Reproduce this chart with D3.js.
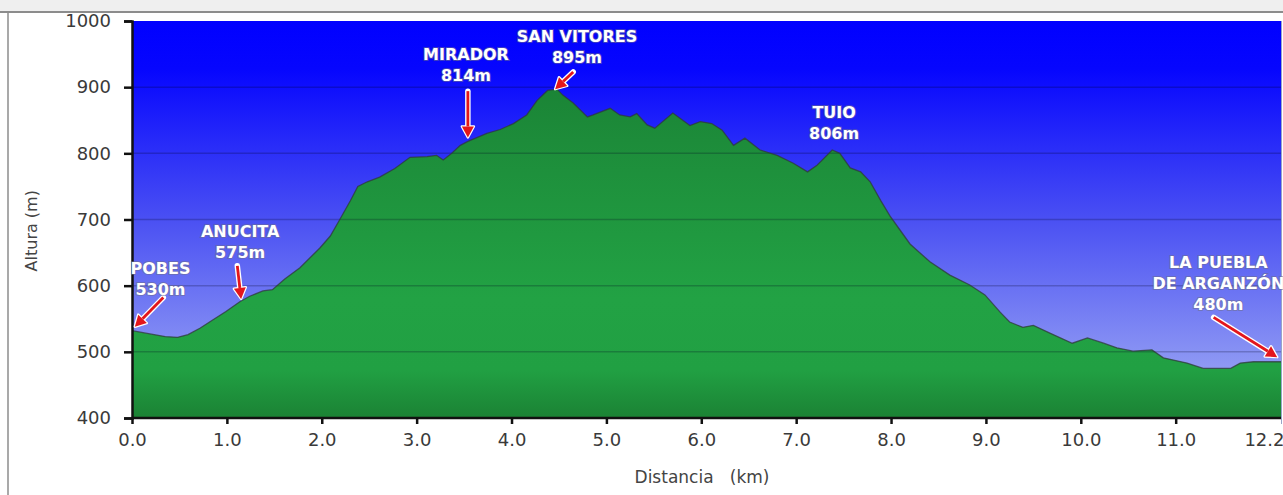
<!DOCTYPE html>
<html>
<head>
<meta charset="utf-8">
<script src="https://cdn.jsdelivr.net/npm/d3@7"></script>
<style>
  html, body { margin: 0; padding: 0; background: #ffffff; overflow: hidden; }
  svg { display: block; }
</style>
</head>
<body>
<svg id="chart" width="1283" height="495"></svg>
<script>
// ---------- data ----------
const distanceKm = [
  0.00, 0.19, 0.35, 0.48, 0.59, 0.72, 0.85, 0.99, 1.14, 1.24, 1.38, 1.48, 1.61, 1.77, 1.98,
  2.09, 2.19, 2.30, 2.38, 2.48, 2.61, 2.77, 2.93, 3.11, 3.21, 3.28, 3.37, 3.46, 3.54, 3.74,
  3.88, 4.02, 4.16, 4.27, 4.38, 4.48, 4.54, 4.65, 4.80, 4.86, 5.04, 5.14, 5.25, 5.32, 5.43,
  5.51, 5.70, 5.88, 5.99, 6.11, 6.22, 6.34, 6.46, 6.62, 6.80, 6.97, 7.12, 7.22, 7.38, 7.46,
  7.57, 7.68, 7.78, 7.89, 7.99, 8.10, 8.20, 8.41, 8.62, 8.83, 8.99, 9.15, 9.25, 9.39, 9.50,
  9.68, 9.91, 10.07, 10.24, 10.38, 10.55, 10.75, 10.87, 11.12, 11.29, 11.58, 11.68, 11.82, 12.11
];
const elevationM = [
  532, 527, 523, 522, 526, 536, 548, 561, 576, 584, 592, 594, 610, 627, 657,
  675, 700, 728, 750, 757, 764, 777, 794, 795, 797, 790, 800, 812, 818, 830,
  836, 845, 858, 880, 895, 897, 888, 876, 855, 858, 868, 858, 855, 860, 843,
  838, 861, 842, 848, 845, 835, 812, 823, 805, 797, 785, 772, 782, 805, 800,
  778, 772, 757, 729, 705, 683, 663, 636, 616, 601, 586, 560, 545, 537, 540,
  528, 513, 521, 513, 506, 501, 503, 491, 483, 475, 475, 483, 485, 485
];
const yTickValues = [400, 500, 600, 700, 800, 900, 1000];
const xTickValues = [0, 1, 2, 3, 4, 5, 6, 7, 8, 9, 10, 11, 12.11];
const xTickLabels = ["0.0", "1.0", "2.0", "3.0", "4.0", "5.0", "6.0", "7.0", "8.0", "9.0", "10.0", "11.0", "12.2"];

// annotations: label lines, label anchor (km, m), arrow from/to (km, m)
const annotationLabels = [
  ["POBES", "530m"],
  ["ANUCITA", "575m"],
  ["MIRADOR", "814m"],
  ["SAN VITORES", "895m"],
  ["TUIO", "806m"],
  ["LA PUEBLA", "DE ARGANZÓN", "480m"]
];
const annotationAt = [[0.30, 627], [1.14, 682], [3.52, 950], [4.69, 977], [7.40, 862], [11.45, 635]];
const arrowFrom = [[0.33, 582], [1.11, 630], [3.54, 894], [4.65, 923], null, [11.40, 552]];
const arrowTo   = [[0.03, 538], [1.15, 580], [3.54, 824], [4.46, 897], null, [12.07, 492]];

// ---------- layout ----------
const W = 1283, H = 495;
const plot = { left: 132, right: 1281, top: 21, bottom: 418 };

const svg = d3.select("#chart");
const x = d3.scaleLinear().domain([0, d3.max(distanceKm)]).range([plot.left, plot.right]);
const y = d3.scaleLinear().domain([400, 1000]).range([plot.bottom, plot.top]);

const defs = svg.append("defs");
const sky = defs.append("linearGradient").attr("id", "sky")
  .attr("gradientUnits", "userSpaceOnUse")
  .attr("x1", 0).attr("x2", 0).attr("y1", plot.top).attr("y2", plot.bottom);
sky.append("stop").attr("offset", "0%").attr("stop-color", "#0000ff");
sky.append("stop").attr("offset", "12%").attr("stop-color", "#0606fe");
sky.append("stop").attr("offset", "50%").attr("stop-color", "#4a50f3");
sky.append("stop").attr("offset", "100%").attr("stop-color", "#a6b2f4");

const grass = defs.append("linearGradient").attr("id", "grass")
  .attr("gradientUnits", "userSpaceOnUse")
  .attr("x1", 0).attr("x2", 0).attr("y1", plot.top).attr("y2", plot.bottom);
grass.append("stop").attr("offset", "0%").attr("stop-color", "#177a30");
grass.append("stop").attr("offset", "30%").attr("stop-color", "#1d8c3a");
grass.append("stop").attr("offset", "70%").attr("stop-color", "#22a244");
grass.append("stop").attr("offset", "88%").attr("stop-color", "#21a043");
grass.append("stop").attr("offset", "100%").attr("stop-color", "#1b8234");

// outer frame
svg.append("rect").attr("x", 0).attr("y", 0).attr("width", W).attr("height", 11).attr("fill", "#efefef");
svg.append("line").attr("x1", 0).attr("x2", W).attr("y1", 12).attr("y2", 12)
  .attr("stroke", "#8c8c8c").attr("stroke-width", 2);
svg.append("line").attr("x1", 8).attr("x2", 8).attr("y1", 12).attr("y2", H)
  .attr("stroke", "#8c8c8c").attr("stroke-width", 1.5);

// plot background
svg.append("rect")
  .attr("x", plot.left).attr("y", plot.top)
  .attr("width", plot.right - plot.left).attr("height", plot.bottom - plot.top)
  .attr("fill", "url(#sky)");

const pts = distanceKm.map((d, i) => [d, elevationM[i]]);

// profile area
svg.append("path")
  .datum(pts)
  .attr("fill", "url(#grass)")
  .attr("d", d3.area().x(d => x(d[0])).y0(y(400)).y1(d => y(d[1])));

// grid lines
svg.append("g")
  .selectAll("line")
  .data(yTickValues.filter(v => v > 400 && v < 1000))
  .join("line")
  .attr("x1", plot.left).attr("x2", plot.right)
  .attr("y1", d => y(d)).attr("y2", d => y(d))
  .attr("stroke", "rgba(0,0,30,0.22)").attr("stroke-width", 1.5);

// profile outline
svg.append("path")
  .datum(pts)
  .attr("fill", "none")
  .attr("stroke", "#2f3a3a").attr("stroke-opacity", 0.75).attr("stroke-width", 1.3)
  .attr("d", d3.line().x(d => x(d[0])).y(d => y(d[1])));

// right border of plot
svg.append("line").attr("x1", plot.right + 0.5).attr("x2", plot.right + 0.5)
  .attr("y1", plot.top).attr("y2", plot.bottom + 6)
  .attr("stroke", "#9aa4c8").attr("stroke-width", 1);

// axes
const font = "'DejaVu Sans', Verdana, sans-serif";
const yAxis = svg.append("g").attr("transform", `translate(${plot.left},0)`)
  .call(d3.axisLeft(y).tickValues(yTickValues).tickSize(8).tickPadding(13).tickFormat(d3.format("d")));
const xAxis = svg.append("g").attr("transform", `translate(0,${plot.bottom})`)
  .call(d3.axisBottom(x).tickValues(xTickValues).tickSize(6).tickPadding(9)
    .tickFormat((d, i) => xTickLabels[i]));

[yAxis, xAxis].forEach(g => {
  g.select(".domain").attr("stroke", "#111").attr("stroke-width", 2.5);
  g.selectAll(".tick line").attr("stroke", "#111").attr("stroke-width", 2.5);
  g.selectAll(".tick text").attr("fill", "#3a3a3a").style("font-family", font).style("font-size", "18px");
});
xAxis.select(".domain").attr("d", `M${plot.left},0H${plot.right}`);
xAxis.selectAll(".tick").filter((d, i) => i === xTickValues.length - 1)
  .select("text").attr("text-anchor", "end").attr("dx", 3);
xAxis.selectAll(".tick").filter((d, i) => i === xTickValues.length - 1)
  .select("line").attr("stroke", "#9aa4c8").attr("stroke-width", 1);

// axis titles
svg.append("text")
  .attr("transform", `translate(37,${y(683)}) rotate(-90)`)
  .attr("text-anchor", "middle")
  .style("font-family", font).style("font-size", "16px").attr("fill", "#444")
  .text("Altura (m)");
svg.append("text")
  .attr("x", 702).attr("y", 483)
  .attr("text-anchor", "middle")
  .style("font-family", font).style("font-size", "17px").attr("fill", "#444")
  .attr("xml:space", "preserve").style("white-space", "pre")
  .text("Distancia   (km)");

// arrows
const arrowG = svg.append("g");
function arrowShape(p0, p1) {
  const dx = p1[0] - p0[0], dy = p1[1] - p0[1];
  const len = Math.hypot(dx, dy), ux = dx / len, uy = dy / len;
  const hl = 11, hw = 6;
  const bx = p1[0] - ux * hl, by = p1[1] - uy * hl;
  return {
    shaft: [p0, [bx, by]],
    head: [[p1[0], p1[1]], [bx - uy * hw, by + ux * hw], [bx + uy * hw, by - ux * hw]]
  };
}
annotationLabels.forEach((lbl, i) => {
  if (!arrowFrom[i]) return;
  const p0 = [x(arrowFrom[i][0]), y(arrowFrom[i][1])];
  const p1 = [x(arrowTo[i][0]), y(arrowTo[i][1])];
  const s = arrowShape(p0, p1);
  arrowG.append("line").attr("x1", s.shaft[0][0]).attr("y1", s.shaft[0][1])
    .attr("x2", s.shaft[1][0]).attr("y2", s.shaft[1][1])
    .attr("stroke", "#ffffff").attr("stroke-width", 5.5).attr("stroke-linecap", "round");
  arrowG.append("polygon").attr("points", s.head.map(p => p.join(",")).join(" "))
    .attr("fill", "#ffffff").attr("stroke", "#ffffff").attr("stroke-width", 2.5).attr("stroke-linejoin", "round");
  arrowG.append("line").attr("x1", s.shaft[0][0]).attr("y1", s.shaft[0][1])
    .attr("x2", s.shaft[1][0]).attr("y2", s.shaft[1][1])
    .attr("stroke", "#e3161b").attr("stroke-width", 2.8);
  arrowG.append("polygon").attr("points", s.head.map(p => p.join(",")).join(" "))
    .attr("fill", "#e3161b");
});

// labels
const labelG = svg.append("g");
annotationLabels.forEach((lines, i) => {
  const cx = x(annotationAt[i][0]), cy = y(annotationAt[i][1]);
  lines.forEach((t, j) => {
    labelG.append("text")
      .attr("x", cx).attr("y", cy + j * 21)
      .attr("dy", "0.36em")
      .attr("text-anchor", "middle")
      .style("font-family", font).style("font-size", "16px").style("font-weight", "bold")
      .style("paint-order", "stroke")
      .attr("stroke", "rgba(110,110,140,0.55)").attr("stroke-width", 2)
      .attr("fill", "#ffffff")
      .text(t);
  });
});
</script>
</body>
</html>
